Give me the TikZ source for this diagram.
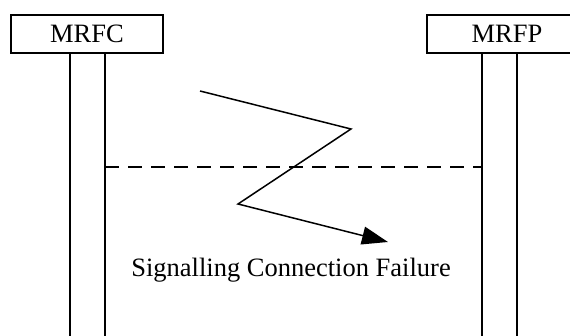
\documentclass[tikz,border=0pt]{standalone}
\usepackage{fontspec}
\setmainfont{Liberation Serif}
\usetikzlibrary{arrows.meta}
\begin{document}
\begin{tikzpicture}[x=1pt,y=-1pt,
  entity/.style={draw,line width=1.6pt,minimum height=38pt,inner sep=0pt,font=\fontsize{26.5}{29}\selectfont},
  life/.style={line width=1.5pt},
  msg/.style={line width=1.5pt,-{Triangle[length=26pt,width=18pt]}},
  lbl/.style={font=\fontsize{26.5}{29}\selectfont,inner sep=0pt}]
\useasboundingbox (0,0) rectangle (570,336);
\node[entity,minimum width=152pt] (mrfc) at (87,34) {MRFC};
\node[entity,minimum width=160pt] (mrfp) at (507,34) {MRFP};
\coordinate (c1) at (70,53); \coordinate (c1b) at (70,340);
\coordinate (c2) at (105,53); \coordinate (c2b) at (105,340);
\coordinate (p1) at (482,53); \coordinate (p1b) at (482,340);
\coordinate (p2) at (517,53); \coordinate (p2b) at (517,340);
\draw[life] (c1) -- (c1b);
\draw[life] (c2) -- (c2b);
\draw[life] (p1) -- (p1b);
\draw[life] (p2) -- (p2b);
\coordinate (d1) at (105,167); \coordinate (d2) at (482,167);
\draw[line width=1.5pt,dash pattern=on 14pt off 9pt] (d1) -- (d2);
\coordinate (z0) at (200,91);
\coordinate (z1) at (351,129);
\coordinate (z2) at (238,204);
\coordinate (z3) at (388,242);
\draw[msg] (z0) -- (z1) -- (z2) -- (z3);
\node[lbl] (fail) at (291,270) {Signalling Connection Failure};
\end{tikzpicture}
\end{document}
